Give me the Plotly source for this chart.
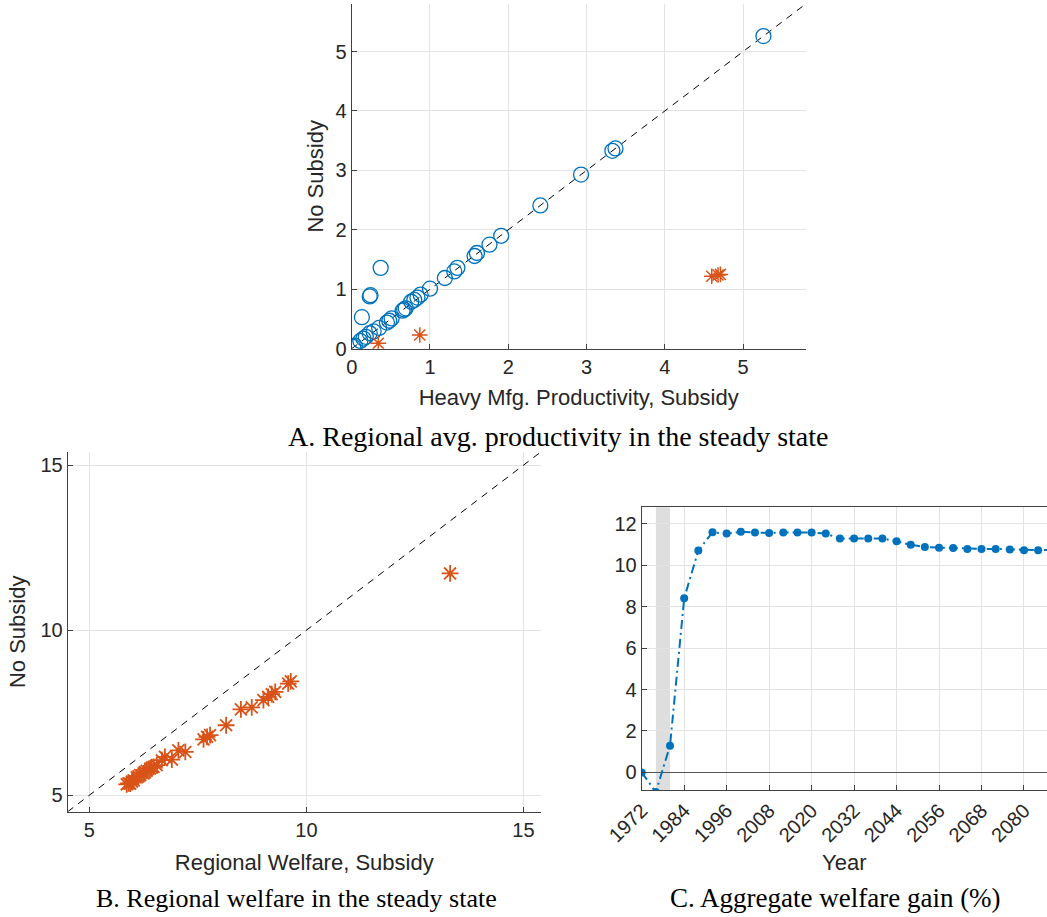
import plotly.graph_objects as go

# ---- Panel A: heavy manufacturing productivity (subsidy vs no subsidy) ----
a_circ_x = [5.26, 3.33, 3.37, 2.93, 2.41, 1.91, 1.76, 1.57, 1.60, 1.31, 1.35, 1.19, 1.00,
            0.88, 0.84, 0.80, 0.76, 0.69, 0.67, 0.65, 0.51, 0.48, 0.45, 0.35, 0.28, 0.23,
            0.18, 0.15, 0.11, 0.04, 0.02, 0.37, 0.23, 0.24, 0.13]
a_circ_y = [5.26, 3.33, 3.37, 2.93, 2.41, 1.90, 1.75, 1.56, 1.61, 1.30, 1.36, 1.19, 1.01,
            0.91, 0.86, 0.82, 0.79, 0.68, 0.66, 0.64, 0.51, 0.47, 0.44, 0.35, 0.29, 0.26,
            0.20, 0.17, 0.13, 0.05, 0.03, 1.36, 0.88, 0.90, 0.53]
a_star_x = [0.34, 0.87, 4.60, 4.68, 4.71]
a_star_y = [0.09, 0.23, 1.22, 1.24, 1.25]
a_range = [0, 5.8]
a_ticks = [0, 1, 2, 3, 4, 5]

# ---- Panel B: regional welfare ----
b_x = [13.31, 9.64, 9.58, 9.28, 9.20, 9.12, 9.01, 8.74, 8.49, 8.15, 7.78, 7.71, 7.63,
       7.21, 7.05, 6.90, 6.74, 6.67, 6.55, 6.48, 6.44, 6.40, 6.32, 6.28, 6.25, 6.17,
       6.13, 6.09, 6.02, 5.98, 5.94, 5.90, 5.86]
b_y = [11.72, 8.45, 8.38, 8.13, 8.06, 7.98, 7.88, 7.66, 7.60, 7.12, 6.82, 6.77, 6.69,
       6.31, 6.36, 6.08, 6.16, 6.06, 5.91, 5.86, 5.84, 5.81, 5.74, 5.70, 5.66, 5.61,
       5.57, 5.54, 5.45, 5.41, 5.35, 5.36, 5.33]
b_range = [4.5, 15.4]
b_ticks = [5, 10, 15]

# ---- Panel C: aggregate welfare gain over time ----
c_year = list(range(1972, 2092, 4))
c_gain = [0.0, -0.95, 1.29, 8.41, 10.71, 11.59, 11.53, 11.62, 11.58, 11.56, 11.58, 11.58,
          11.58, 11.53, 11.29, 11.29, 11.29, 11.29, 11.16, 10.99, 10.88, 10.85, 10.83,
          10.79, 10.79, 10.79, 10.76, 10.73, 10.73, 10.75]
c_shade = [1976, 1980]
c_xrange = [1972, 2086.5]
c_yrange = [-0.85, 12.8]
c_xticks = list(range(1972, 2081, 12))
c_yticks = [0, 2, 4, 6, 8, 10, 12]

BLUE = "#0072BD"
RED = "#D95319"
AXC = "#404040"
GRID = "#e3e3e3"
TXT = "#262626"
SANS = "Liberation Sans, Arial, sans-serif"
SERIF = "Liberation Serif, Times New Roman, serif"
W, H = 1047, 917

fig = go.Figure()

# Panel A
fig.add_trace(go.Scatter(x=a_range, y=a_range, mode="lines",
                         line=dict(color="black", width=1, dash="7px,6px"),
                         xaxis="x", yaxis="y", showlegend=False))
fig.add_trace(go.Scatter(x=a_circ_x, y=a_circ_y, mode="markers",
                         marker=dict(symbol="circle-open", size=15, color=BLUE,
                                     line=dict(width=1.3, color=BLUE)),
                         xaxis="x", yaxis="y", showlegend=False))
fig.add_trace(go.Scatter(x=a_star_x, y=a_star_y, mode="markers",
                         marker=dict(symbol="asterisk-open", size=13, color=RED,
                                     line=dict(width=1.5, color=RED)),
                         xaxis="x", yaxis="y", showlegend=False))

# Panel B
fig.add_trace(go.Scatter(x=b_range, y=b_range, mode="lines",
                         line=dict(color="black", width=1, dash="7px,6px"),
                         xaxis="x2", yaxis="y2", showlegend=False))
fig.add_trace(go.Scatter(x=b_x, y=b_y, mode="markers",
                         marker=dict(symbol="asterisk-open", size=14, color=RED,
                                     line=dict(width=1.8, color=RED)),
                         xaxis="x2", yaxis="y2", showlegend=False))

# Panel C
fig.add_trace(go.Scatter(x=c_year, y=c_gain, mode="lines+markers",
                         line=dict(color=BLUE, width=2, dash="9px,4px,2px,4px"),
                         marker=dict(symbol="circle", size=8, color=BLUE),
                         xaxis="x3", yaxis="y3", showlegend=False))

fig.add_shape(type="rect", xref="x3", yref="y3 domain", x0=c_shade[0], x1=c_shade[1],
              y0=0, y1=1, fillcolor="#dedede", line=dict(width=0), layer="below")


def ax(domain, rng, ticks, anchor, title=None, standoff=6, mirror=False, **kw):
    d = dict(domain=domain, range=rng, tickvals=ticks, anchor=anchor, automargin=False,
             showgrid=True, gridcolor=GRID, gridwidth=1, zeroline=False,
             showline=True, linecolor=AXC, linewidth=1, mirror=mirror,
             ticks="inside", ticklen=5, tickcolor=AXC,
             tickfont=dict(family=SANS, size=20, color=TXT))
    if title:
        d["title"] = dict(text=title, standoff=standoff,
                          font=dict(family=SANS, size=22, color=TXT))
    d.update(kw)
    return d


fig.update_layout(
    width=W, height=H, margin=dict(l=0, r=0, t=0, b=0),
    paper_bgcolor="white", plot_bgcolor="white",
    xaxis=ax([351.7 / W, 805.7 / W], a_range, a_ticks, "y",
             "Heavy Mfg. Productivity, Subsidy", 12),
    yaxis=ax([1 - 348.7 / H, 1 - 4 / H], a_range, a_ticks, "x", "No Subsidy", 5),
    xaxis2=ax([67.7 / W, 540.8 / W], b_range, b_ticks, "y2",
              "Regional Welfare, Subsidy", 14),
    yaxis2=ax([1 - 811.7 / H, 1 - 452 / H], b_range, b_ticks, "x2", "No Subsidy", 8),
    xaxis3=ax([641.7 / W, 1.0], c_xrange, c_xticks, "y3", "Year", 9,
              mirror=True, tickangle=-45),
    yaxis3=ax([1 - 790 / H, 1 - 507.3 / H], c_yrange, c_yticks, "x3", mirror=True,
              zeroline=True, zerolinecolor="#555555", zerolinewidth=1),
)

titles = [("A. Regional avg. productivity in the steady state", 557.5, 436, 28),
          ("B. Regional welfare in the steady state", 296.5, 898, 26),
          ("C. Aggregate welfare gain (%)", 835.5, 898, 27)]
for txt, cx, cy, fs in titles:
    fig.add_annotation(text=txt, x=cx / W, y=1 - cy / H, xref="paper", yref="paper",
                       showarrow=False, xanchor="center", yanchor="middle",
                       font=dict(family=SERIF, size=fs, color="black"))

fig.write_html("out.html")
